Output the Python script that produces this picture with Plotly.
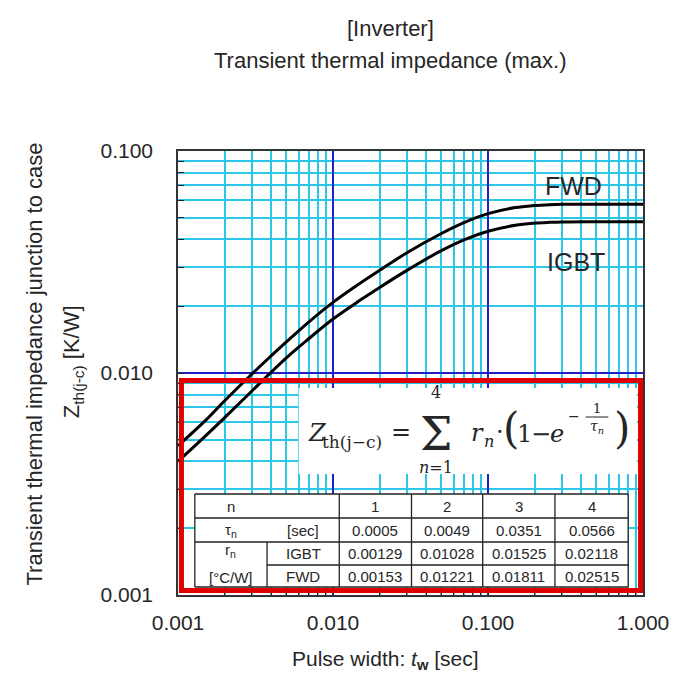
import plotly.graph_objects as go

# curve values
pulse_width = [0.001, 0.0015, 0.002, 0.003, 0.005, 0.007, 0.01, 0.015, 0.02, 0.03,
               0.05, 0.07, 0.1, 0.15, 0.2, 0.25, 0.3, 0.5, 1.0]
zth_fwd = [0.0047, 0.0061, 0.0075, 0.0099, 0.0138, 0.0170, 0.0208, 0.0254, 0.0290, 0.0348,
           0.0425, 0.0476, 0.0522, 0.0556, 0.0568, 0.0573, 0.0575, 0.0576, 0.0576]
zth_igbt = [0.0040, 0.0052, 0.0063, 0.0083, 0.0117, 0.0143, 0.0175, 0.0213, 0.0243, 0.0290,
            0.0356, 0.0398, 0.0435, 0.0463, 0.0473, 0.0477, 0.0479, 0.0480, 0.0480]

# table content
tau_n = ["0.0005", "0.0049", "0.0351", "0.0566"]
r_igbt = ["0.00129", "0.01028", "0.01525", "0.02118"]
r_fwd = ["0.00153", "0.01221", "0.01811", "0.02515"]

x_ticks = [0.001, 0.01, 0.1, 1.0]
x_ticktext = ["0.001", "0.010", "0.100", "1.000"]
y_ticks = [0.001, 0.01, 0.1]
y_ticktext = ["0.001", "0.010", "0.100"]

W, H = 681, 679
OFF = 8                               # page body margin
X0, X1, Y0, Y1 = 178, 648, 151, 595   # plot area in screen pixels

CYAN = "#2cc6e8"
BLUE = "#2020c8"
RED = "#e00000"
TXT = "#262626"
SANS = "Liberation Sans, Arial, sans-serif"
SERIF = "DejaVu Serif, serif"


def px(x):
    return (x - X0) / (X1 - X0)


def py(y):
    return (Y1 - y) / (Y1 - Y0)


def minors(lo, hi):
    vals = []
    d = lo
    while d < hi:
        vals += [d * k for k in range(2, 10)]
        d *= 10
    return vals


fig = go.Figure()

for name, vals in [("FWD", zth_fwd), ("IGBT", zth_igbt)]:
    fig.add_trace(go.Scatter(x=pulse_width, y=vals, mode="lines", name=name,
                             line=dict(color="black", width=3, shape="spline"),
                             showlegend=False))

annotations = []


def ann(text, x, y, size, family=SANS, xanchor="center", yanchor="middle", angle=0):
    annotations.append(dict(text=text, x=px(x), y=py(y), xref="paper", yref="paper",
                            xanchor=xanchor, yanchor=yanchor, showarrow=False,
                            textangle=angle, font=dict(size=size, family=family, color=TXT)))


# titles
ann("[Inverter]", 393, 29, 22)
ann("Transient thermal impedance (max.)", 393, 60, 22)
ann("Pulse width: <i>t</i><sub><b>w</b></sub> [sec]", 388, 660, 21)
ann("Transient thermal impedance junction to case", 32, 364, 22, angle=-90)
ann("Z<sub>th(j-c)</sub> [K/W]", 72, 362, 22, angle=-90)

# curve labels
ann("FWD", 578, 186, 25)
ann("IGBT", 580, 262, 25)

shapes = []


def rect(x0, y0, x1, y1, fill="white", color=None, width=0):
    shapes.append(dict(type="rect", xref="paper", yref="paper", layer="above",
                       x0=px(x0), x1=px(x1), y0=py(y0), y1=py(y1), fillcolor=fill,
                       line=dict(color=color or fill, width=width)))


def hline(x0, x1, y, width=1.3):
    shapes.append(dict(type="line", xref="paper", yref="paper", layer="above",
                       x0=px(x0), x1=px(x1), y0=py(y), y1=py(y),
                       line=dict(color="#222", width=width)))


def vline(x, y0, y1, width=1.3):
    shapes.append(dict(type="line", xref="paper", yref="paper", layer="above",
                       x0=px(x), x1=px(x), y0=py(y0), y1=py(y1),
                       line=dict(color="#222", width=width)))


# formula panel
rect(300, 388, 642, 474)
ann("<i>Z</i>", 307, 433, 24, SERIF, xanchor="left")
ann("th(j\u2212c)", 322, 442, 17, SERIF, xanchor="left")
ann("=", 403, 432, 24, SERIF)
ann("\u03a3", 439, 434, 46, SERIF)
ann("4", 439, 392, 16, SERIF)
ann("<i>n</i>=1", 439, 468, 16, SERIF)
ann("<i>r</i>", 472, 433, 24, SERIF, xanchor="left")
ann("<i>n</i>", 485, 441, 16, SERIF, xanchor="left")
ann("\u00b7", 503, 432, 24, SERIF)
ann("(", 515, 428, 42, SERIF)
ann("1", 528, 434, 24, SERIF)
ann("\u2212", 545, 434, 24, SERIF)
ann("<i>e</i>", 561, 434, 24, SERIF)
ann("\u2212", 578, 416, 14, SERIF)
ann("1", 601, 408, 13, SERIF)
ann("<i>\u03c4<sub>n</sub></i>", 602, 427, 14, SERIF)
ann(")", 627, 428, 42, SERIF)
hline(590, 613, 417, width=1)

# table
TX = [195, 268, 341, 414, 486, 559, 633]
TY = [494, 518, 542, 565, 587]
rect(TX[0], TY[0], TX[-1], TY[-1])
for y in TY:
    if y == TY[3]:
        hline(TX[1], TX[-1], y)
    else:
        hline(TX[0], TX[-1], y)
for x in TX:
    if x == TX[1]:
        vline(x, TY[2], TY[4])
    else:
        vline(x, TY[0], TY[4])

row_mid = [(TY[i] + TY[i + 1]) / 2 for i in range(4)]
col_mid = [(TX[i] + TX[i + 1]) / 2 for i in range(6)]
TS = 15
ann("n", col_mid[0], row_mid[0], TS)
ann("\u03c4<sub>n</sub>", col_mid[0], row_mid[1], TS)
ann("[sec]", col_mid[1], row_mid[1], TS)
ann("r<sub>n</sub>", col_mid[0], 550, TS)
ann("[\u00b0C/W]", col_mid[0], 577, TS)
ann("IGBT", col_mid[1], row_mid[2], TS)
ann("FWD", col_mid[1], row_mid[3], TS)
for i in range(4):
    ann(str(i + 1), col_mid[i + 2], row_mid[0], TS)
    ann(tau_n[i], col_mid[i + 2], row_mid[1], TS)
    ann(r_igbt[i], col_mid[i + 2], row_mid[2], TS)
    ann(r_fwd[i], col_mid[i + 2], row_mid[3], TS)

# red frame around formula and table
shapes.append(dict(type="rect", xref="paper", yref="paper", layer="above",
                   x0=px(181.5), x1=px(645.5), y0=py(380.5), y1=py(590.5),
                   line=dict(color=RED, width=5)))

axis_common = dict(type="log", showline=True, linecolor="#333", linewidth=1.5, mirror=True,
                   ticks="inside", ticklen=6, tickcolor="#222",
                   showgrid=True, gridcolor=BLUE, gridwidth=1.5, zeroline=False,
                   tickfont=dict(size=21, family=SANS, color=TXT))

fig.update_layout(
    width=W - OFF, height=H - OFF,
    margin=dict(l=X0 - OFF, r=W - X1, t=Y0 - OFF, b=H - Y1),
    paper_bgcolor="white", plot_bgcolor="white",
    xaxis=dict(axis_common, range=[-3, 0], tickmode="array", tickvals=x_ticks,
               ticktext=x_ticktext, ticklabelstandoff=8,
               minor=dict(tickmode="array", tickvals=minors(0.001, 1.0), ticks="inside",
                          ticklen=6, tickcolor="#222", showgrid=True,
                          gridcolor=CYAN, gridwidth=1.5)),
    yaxis=dict(axis_common, range=[-3, -1], tickmode="array", tickvals=y_ticks,
               ticktext=y_ticktext, ticklabelstandoff=19,
               minor=dict(tickmode="array", tickvals=minors(0.001, 0.1), ticks="inside",
                          ticklen=6, tickcolor="#222", showgrid=True,
                          gridcolor=CYAN, gridwidth=1.5)),
    annotations=annotations,
    shapes=shapes,
)

fig.write_html("out.html")
